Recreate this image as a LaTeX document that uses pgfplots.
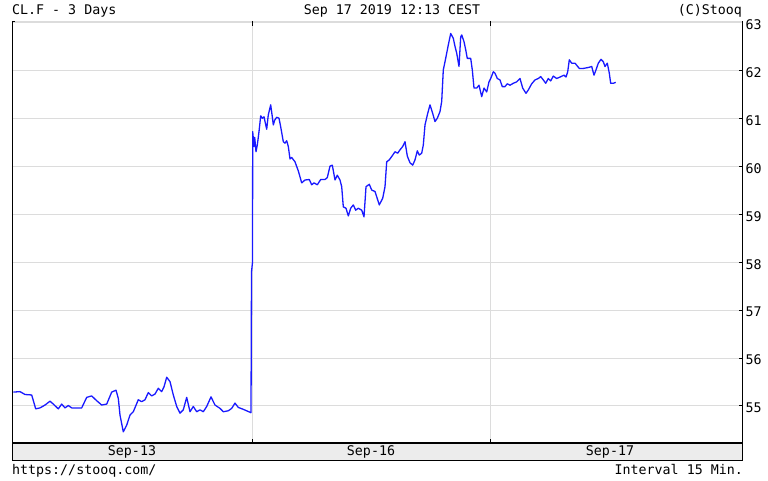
\documentclass[border=0pt]{standalone}
\usepackage{fontspec}
\usepackage{pgfplots}
\pgfplotsset{compat=1.18}
\newfontfamily\monof{DejaVu Sans Mono}
\definecolor{gridc}{RGB}{220,220,220}
\definecolor{bandc}{RGB}{236,236,236}
\definecolor{linec}{RGB}{25,25,255}
\newcommand{\tf}{\monof\fontsize{13.3}{15}\selectfont}
\begin{document}
\begin{tikzpicture}
\path[use as bounding box] (0pt,0pt) rectangle (768pt,480pt);
\begin{axis}[
  at={(12pt,37pt)}, anchor=south west,
  scale only axis, width=731pt, height=421pt,
  xmin=12, xmax=743, ymin=54.227, ymax=63.02,
  axis line style={draw=none},
  xtick={252,490}, xticklabels={},
  ytick={55,56,57,58,59,60,61,62,63},
  xmajorgrids, ymajorgrids,
  grid style={gridc, line width=1pt},
  tick align=inside,
  xtick pos=both,
  ytick pos=right,
  yticklabel pos=right,
  major tick length=4pt,
  tick style={black, line width=1pt},
  /pgf/number format/assume math mode=true,
  yticklabel style={font=\tf, yshift=-2pt, xshift=-1pt},
  clip=false,
]
\addplot[linec, line width=1.3pt, line join=round] coordinates {
(13.3,55.29) (20,55.30) (25,55.24) (31.7,55.23) (35.7,54.94) (40,54.96) (45,55.02) (50,55.10)
(53.3,55.04) (58.3,54.94) (61.7,55.04) (65,54.96) (68.3,55.01) (71.7,54.96) (76.7,54.96) (81.7,54.96)
(86.7,55.18) (91.7,55.21) (96.7,55.11) (101.7,55.02) (106.7,55.04) (111.7,55.29) (116,55.33) (118.3,55.16)
(120,54.81) (123.3,54.46) (126.7,54.60) (130,54.81) (133.3,54.88) (138.3,55.13) (141.7,55.09) (145,55.13)
(148.3,55.28) (151.7,55.21) (155,55.25) (158.3,55.37) (161.7,55.30) (164,55.40) (166.7,55.60) (170,55.51)
(173.3,55.23) (176.7,54.99) (180,54.85) (183.3,54.92) (186.7,55.18) (190,54.88) (193.3,54.99) (196.7,54.88)
(200,54.92) (203.3,54.88) (206.7,54.99) (211,55.19) (215,55.02) (220,54.95) (223.3,54.88) (228.3,54.90)
(231.7,54.95) (235,55.06) (238.3,54.97) (243.3,54.93) (251,54.86) (251.5,57.8) (252.5,58.0)
(252.7,60.73) (254,60.42) (254.7,60.61) (256,60.31) (257.3,60.45) (259,60.73) (260.7,61.06) (262.3,61.01)
(264,61.04) (266.7,60.78) (268.3,61.08) (270.7,61.29) (272.3,61.04) (273.3,60.87) (274.7,60.97) (276.7,61.03)
(279,61.01) (280.7,60.83) (283.3,60.52) (285,60.49) (286.7,60.54) (288.3,60.42) (290,60.16) (291.7,60.19)
(295,60.10) (298.3,59.91) (301.7,59.66) (305,59.72) (309.3,59.73) (311.7,59.62) (314,59.66) (317.3,59.62)
(320.7,59.73) (325,59.73) (327.3,59.77) (330,60.01) (332.3,60.03) (335,59.72) (337.3,59.82) (340,59.72)
(341.7,59.58) (343.3,59.16) (346,59.13) (348.3,58.97) (350.7,59.13) (353.3,59.20) (355.7,59.09) (358.3,59.13)
(361.7,59.09) (364,58.95) (366,59.58) (369.3,59.63) (371.7,59.51) (375,59.48) (376.7,59.37) (379.3,59.20)
(382.7,59.34) (385,59.58) (386.7,60.10) (389.3,60.14) (392.7,60.24) (395,60.31) (397.7,60.28) (400,60.35)
(402.7,60.42) (405,60.52) (407.3,60.22) (410,60.08) (412.7,60.03) (415,60.14) (417.3,60.33) (419.3,60.24)
(421.7,60.28) (423.3,60.45) (425,60.87) (427.7,61.11) (430,61.29) (432.7,61.11) (435,60.94) (437.3,61.01)
(440,61.15) (441.7,61.36) (443.3,62.02) (445,62.19) (446.7,62.37) (448.3,62.54) (450.7,62.78) (453.3,62.68)
(455,62.51) (456.7,62.37) (459,62.09) (460.7,62.71) (461.7,62.75) (464,62.61) (465.7,62.44) (467.3,62.26)
(470.7,62.26) (472.3,62.02) (474,61.64) (476.7,61.64) (479,61.70) (481.7,61.46) (484,61.64) (486.7,61.56)
(489,61.77) (490.7,61.84) (493.3,61.98) (495,61.95) (497.3,61.84) (500,61.81) (502.3,61.67) (505,61.67)
(507.3,61.73) (510,61.70) (513.3,61.74) (516.7,61.77) (520,61.84) (522.7,61.64) (526,61.53) (528.3,61.60)
(531.7,61.73) (535,61.81) (538.3,61.84) (540.7,61.88) (543.3,61.81) (545.7,61.74) (548.3,61.84) (550.7,61.79)
(553.3,61.89) (556.7,61.84) (560,61.87) (564,61.91) (566,61.87) (567.7,61.98) (569.3,62.23) (571.7,62.16)
(575,62.16) (579.3,62.05) (583.3,62.05) (588.3,62.07) (591.7,62.09) (594,61.91) (596,62.02) (598.3,62.16)
(601,62.24) (603.3,62.19) (605,62.09) (607.3,62.16) (609.3,61.95) (610.7,61.74) (613.3,61.74) (615.7,61.76)
};
\end{axis}
% frame and date band
\draw[gridc, line width=1.5pt] (12pt,458pt) -- (743pt,458pt);
\draw[black, line width=1pt] (12pt,20pt) -- (12pt,459pt);
\draw[black, line width=1pt] (12pt,458.5pt) -- (15pt,458.5pt);
\draw[black, line width=1.5pt] (742.5pt,20pt) -- (742.5pt,459pt);
\draw[black, fill=bandc, line width=1pt] (12pt,20pt) rectangle (742.5pt,37pt);
\draw[black, line width=1.5pt] (12pt,37pt) -- (743pt,37pt);
\draw[black, line width=1pt] (252pt,37pt) -- (252pt,41pt);
\draw[black, line width=1pt] (490pt,37pt) -- (490pt,41pt);
\draw[black, line width=1pt] (252pt,459pt) -- (252pt,455pt);
\draw[black, line width=1pt] (490pt,459pt) -- (490pt,455pt);
\node[font=\tf, anchor=base, inner sep=0pt] at (132pt,25pt) {Sep-13};
\node[font=\tf, anchor=base, inner sep=0pt] at (371pt,25pt) {Sep-16};
\node[font=\tf, anchor=base, inner sep=0pt] at (610pt,25pt) {Sep-17};
% titles
\node[font=\tf, anchor=base west, inner sep=0pt] at (12pt,465pt) {CL.F - 3 Days};
\node[font=\tf, anchor=base, inner sep=0pt] at (392pt,465pt) {Sep 17 2019 12:13 CEST};
\node[font=\tf, anchor=base east, inner sep=0pt] at (742pt,465pt) {(C)Stooq};
\node[font=\tf, anchor=base west, inner sep=0pt] at (12pt,5.5pt) {https://stooq.com/};
\node[font=\tf, anchor=base east, inner sep=0pt] at (743pt,5.5pt) {Interval 15 Min.};
\end{tikzpicture}
\end{document}
